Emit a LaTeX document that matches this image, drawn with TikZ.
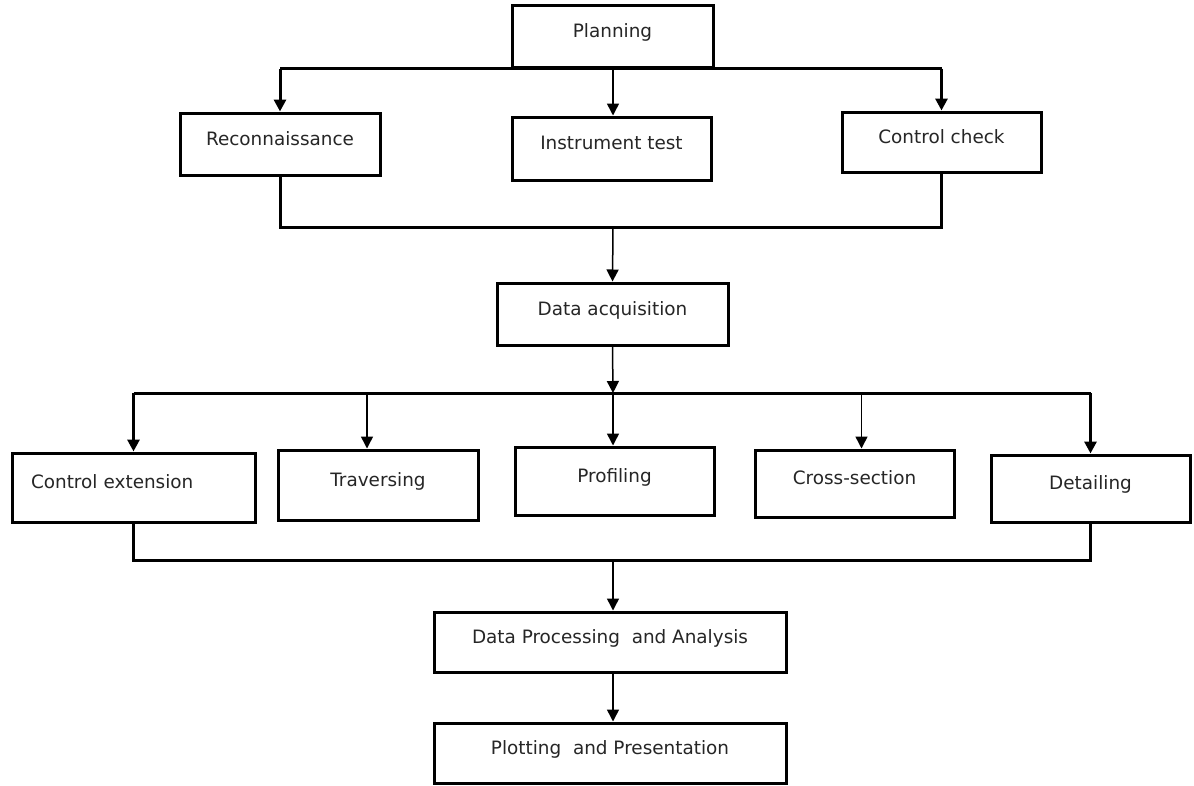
\documentclass[tikz,border=0pt]{standalone}
\usepackage{fontspec}
\setmainfont{DejaVu Sans}
\usetikzlibrary{arrows.meta}
\begin{document}
\begin{tikzpicture}[x=1pt,y=-1pt,
  box/.style={draw=black, line width=3pt, rectangle, inner sep=0pt,
    font=\fontsize{18.4}{22}\selectfont, text=black!85,
    text height=14pt, text depth=12pt},
  bus/.style={draw=black, line width=3pt},
  thinline/.style={draw=black, line width=1.5pt},
  tip/.style={-{Triangle[width=12pt,length=12pt]}}
]
\useasboundingbox[fill=white] (0,0) rectangle (1194,785);
% top level
\node[box, minimum width=201pt, minimum height=62pt] (plan) at (612.5,36) {Planning};
\node[box, minimum width=200pt, minimum height=62pt] (rec) at (280,144) {Reconnaissance};
\node[box, minimum width=199pt, minimum height=63pt] (it) at (611.5,148.5) {Instrument test};
\node[box, minimum width=199pt, minimum height=60pt] (cc) at (941.5,142) {Control check};
\node[box, minimum width=231pt, minimum height=62pt] (daq) at (612.5,314) {Data acquisition};
\node[box, minimum width=243pt, minimum height=69pt, text width=205pt, align=left, inner xsep=19pt] (ce) at (133.5,487.5) {Control extension};
\node[box, minimum width=200pt, minimum height=70pt] (trav) at (378,485) {Traversing};
\node[box, minimum width=199pt, minimum height=68pt] (prof) at (614.5,481) {Profiling};
\node[box, minimum width=199pt, minimum height=67pt] (cs) at (854.5,483.5) {Cross-section};
\node[box, minimum width=199pt, minimum height=67pt] (det) at (1090.5,488.5) {Detailing};
\node[box, minimum width=352pt, minimum height=60pt] (dpa) at (610,642) {Data Processing\ \ and Analysis};
\node[box, minimum width=352pt, minimum height=60pt] (plot) at (610,753) {Plotting\ \ and Presentation};
% junction points
\coordinate (j1) at (613,227);
\coordinate (j2) at (613,393);
\coordinate (j3) at (613,560);
% planning -> three
\draw[bus] (plan.south -| rec.north) -- (plan.south -| cc.north);
\draw[bus,tip] (plan.south -| rec.north) -- (rec.north);
\draw[bus,tip] (plan.south -| cc.north) -- (cc.north);
\draw[thinline,tip] (plan.south -| j1) -- (j1 |- it.north);
% three -> data acquisition
\draw[bus] (rec.south) -- (rec.south |- j1) -- (cc.south |- j1) -- (cc.south);
\draw[thinline,tip] (j1) -- (daq.north);
% data acquisition -> five
\draw[thinline,tip] (daq.south) -- (j2);
\draw[bus] (ce.north |- j2) -- (det.north |- j2);
\draw[bus,tip] (ce.north |- j2) -- (ce.north);
\draw[bus,tip] (det.north |- j2) -- (det.north);
\draw[thinline,tip] (j2) -- (j2 |- prof.north);
\draw[thinline,tip] ([xshift=-11pt]trav.north |- j2) -- ([xshift=-11pt]trav.north);
\draw[thinline,tip] ([xshift=7pt]cs.north |- j2) -- ([xshift=7pt]cs.north);
% five -> processing
\draw[bus] (ce.south) -- (ce.south |- j3) -- (det.south |- j3) -- (det.south);
\draw[thinline,tip] (j3) -- (j3 |- dpa.north);
\draw[thinline,tip] (j3 |- dpa.south) -- (j3 |- plot.north);
\end{tikzpicture}
\end{document}
